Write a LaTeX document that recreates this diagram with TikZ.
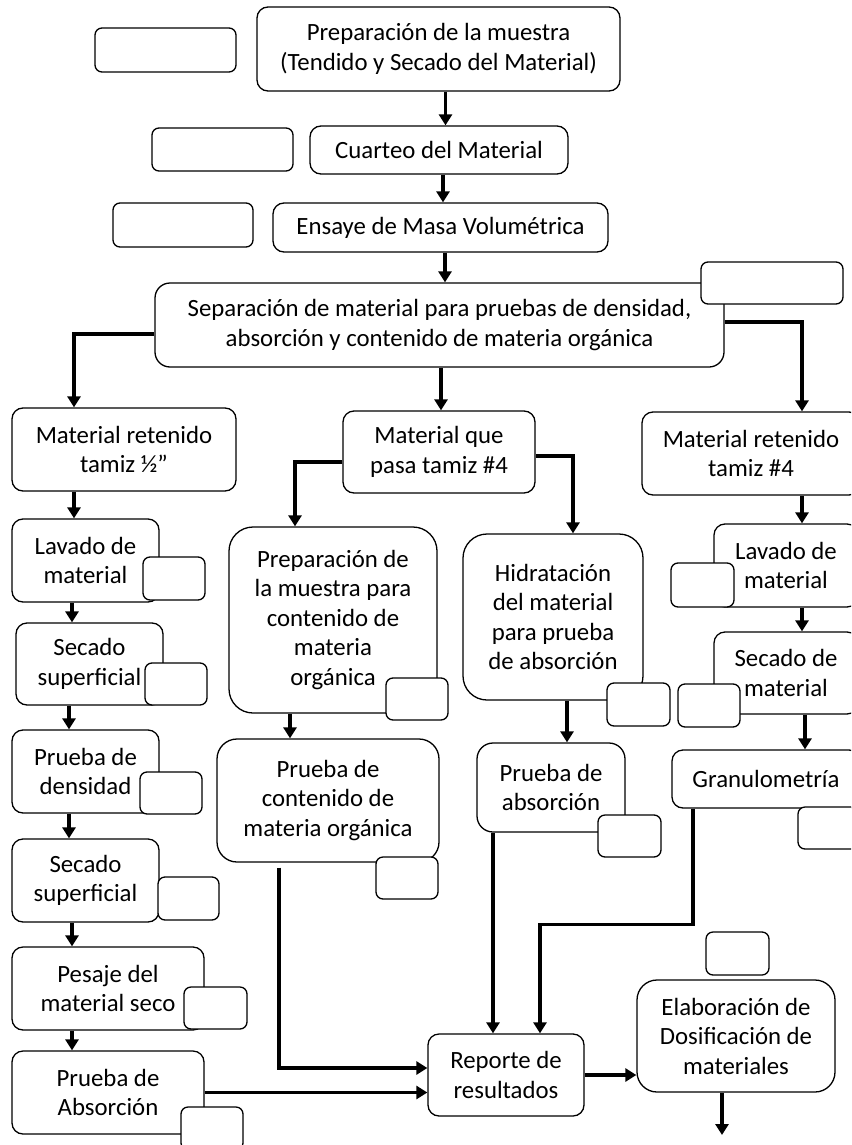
\documentclass[tikz,border=0pt]{standalone}
\usepackage{fontspec}
\setmainfont{Carlito}
\usetikzlibrary{arrows.meta,positioning}

\begin{document}
\begin{tikzpicture}[
    x = 1pt, y = -1pt, % page points, y grows downwards
    > = {Triangle[length=11pt,width=13pt]}, % arrow head style
    line width = 3.6pt, % connector lines
    font = \fontsize{24.8}{29.5}\selectfont
    ]

    \tikzset{proc/.style={
        draw = black,
        line width = 1.3pt,
        rounded corners = 11pt,
        fill = white,
        align = center,
        inner sep = 0pt
        },
    big/.style = {proc, rounded corners = 24pt},
    blank/.style = {proc, rounded corners = 7pt},
    wh/.style 2 args = {minimum width = #1pt, minimum height = #2pt}
    }
    \useasboundingbox (0,0) rectangle (851,1145);
    \clip (0,0) rectangle (851,1145);

    % central trunk
    \node[proc, wh={363}{84}] (prep) at (438.5,49) {Preparación de la muestra\\(Tendido y Secado del Material)};
    \node[proc, wh={258}{48}] (cuarteo) at (439,150) {Cuarteo del Material};
    \node[proc, wh={335}{49}] (ensaye) at (440.5,227.5) {Ensaye de Masa Volumétrica};
    \node[proc, rounded corners=15pt, wh={569}{84}] (separa) at (439.5,325) {Separación de material para pruebas de densidad,\\absorción y contenido de materia orgánica};

    % the three fractions
    \node[proc, wh={224}{83}] (ret12) at (124,449.5) {Material retenido\\tamiz ½”};
    \node[proc, wh={192}{82}] (pasa4) at (439,452) {Material que\\pasa tamiz \#4};
    \node[proc, wh={218}{83}] (ret4) at (751,453.5) {Material retenido\\tamiz \#4};

    % left column
    \node[proc, wh={147}{83}] (lav1) at (85.5,560.5) {Lavado de\\material};
    \node[proc, wh={147}{82}] (sec1) at (89.5,664) {Secado\\superficial};
    \node[proc, wh={147}{83}] (dens) at (85.5,771.5) {Prueba de\\densidad};
    \node[proc, wh={147}{83}] (sec2) at (85.5,880.5) {Secado\\superficial};
    \node[proc, wh={192}{83}] (pesaje) at (108,988.5) {Pesaje del\\material seco};
    \node[proc, wh={192}{83}] (absL) at (108,1092.5) {Prueba de\\Absorción};

    % middle columns
    \node[big, wh={208}{186}] (prepmo) at (333,620) {Preparación de\\la muestra para\\contenido de\\materia\\orgánica};
    \node[big, rounded corners=20pt, wh={222}{123}] (conten) at (328,800.5) {Prueba de\\contenido de\\materia orgánica};
    \node[big, wh={180}{166}] (hidra) at (553,617) {Hidratación\\del material\\para prueba\\de absorción};
    \node[proc, rounded corners=16pt, wh={148}{89}] (pabs) at (551,787.5) {Prueba de\\absorción};

    % right column
    \node[proc, wh={144}{83}] (lav2) at (786,565.5) {Lavado de\\material};
    \node[proc, wh={144}{82}] (sec3) at (786,673) {Secado de\\material};
    \node[proc, wh={188}{58}] (granu) at (766,779) {Granulometría};

    % results
    \node[proc, wh={156}{82}] (reporte) at (506,1075) {Reporte de\\resultados};
    \node[big, rounded corners=20pt, wh={198}{112}] (elab) at (736,1036) {Elaboración de\\Dosificación de\\materiales};
    \coordinate (salida) at (722,1135);

    % empty tags
    \node[blank, wh={141}{44}] (t1) at (165.5,50) {};
    \node[blank, wh={141}{43}] (t2) at (222.5,149.5) {};
    \node[blank, wh={140}{44}] (t3) at (183,225) {};
    \node[blank, wh={142}{42}] (t4) at (772,283) {};
    \node[blank, wh={62}{43}] (t5) at (174,578.5) {};
    \node[blank, wh={62}{42}] (t6) at (176,684) {};
    \node[blank, wh={62}{42}] (t7) at (171,793) {};
    \node[blank, wh={61}{43}] (t8) at (188.5,898.5) {};
    \node[blank, wh={63}{42}] (t9) at (215.5,1008) {};
    \node[blank, wh={62}{43}] (t10) at (212,1128.5) {};
    \node[blank, wh={62}{42}] (t11) at (417,699) {};
    \node[blank, wh={62}{42}] (t12) at (407,878) {};
    \node[blank, wh={63}{43}] (t13) at (638.5,704.5) {};
    \node[blank, wh={63}{42}] (t14) at (629.5,836) {};
    \node[blank, wh={63}{44}] (t15) at (702.5,585) {};
    \node[blank, wh={62}{43}] (t16) at (709,705.5) {};
    \node[blank, wh={63}{42}] (t17) at (829.5,828) {};
    \node[blank, wh={63}{43}] (t18) at (737.5,953.5) {};

    % trunk arrows
    \draw[->] ([xshift=7]prep.south) -- ([xshift=7]prep.south |- cuarteo.north);
    \draw[->] ([xshift=4]cuarteo.south) -- ([xshift=4]cuarteo.south |- ensaye.north);
    \draw[->] ([xshift=4.5]ensaye.south) -- ([xshift=4.5]ensaye.south |- separa.north);
    \draw[->] ([yshift=-9]separa.west) -| ([xshift=-50]ret12.north);
    \draw[->] ([xshift=1.5]separa.south) -- ([xshift=1.5]separa.south |- pasa4.north);
    \draw[->] ([yshift=3]separa.east) -| ([xshift=51]ret4.north);
    \draw[->] ([yshift=-10]pasa4.west) -| ([xshift=-38]prepmo.north);
    \draw[->] ([yshift=-4]pasa4.east) -| ([xshift=20]hidra.north);

    % left column arrows
    \draw[->] ([xshift=-50]ret12.south) -- ([xshift=-50]ret12.south |- lav1.north);
    \draw[->] ([xshift=-13.5]lav1.south) -- ([xshift=-13.5]lav1.south |- sec1.north);
    \draw[->] ([xshift=-20.5]sec1.south) -- ([xshift=-20.5]sec1.south |- dens.north);
    \draw[->] ([xshift=-16.5]dens.south) -- ([xshift=-16.5]dens.south |- sec2.north);
    \draw[->] ([xshift=-13.5]sec2.south) -- ([xshift=-13.5]sec2.south |- pesaje.north);
    \draw[->] ([xshift=-36]pesaje.south) -- ([xshift=-36]pesaje.south |- absL.north);

    % middle and right arrows
    \draw[->] ([xshift=-43]prepmo.south) -- ([xshift=-43]prepmo.south |- conten.north);
    \draw[->] ([xshift=14]hidra.south) -- ([xshift=14]hidra.south |- pabs.north);
    \draw[->] ([xshift=51]ret4.south) -- ([xshift=51]ret4.south |- lav2.north);
    \draw[->] ([xshift=16]lav2.south) -- ([xshift=16]lav2.south |- sec3.north);
    \draw[->] ([xshift=19]sec3.south) -- ([xshift=19]sec3.south |- granu.north);

    % into the report
    \draw[->] ([xshift=-49,yshift=-5]conten.south) |- ([yshift=7]reporte.west);
    \draw[->] (absL.east) -- (absL.east -| reporte.west);
    \draw[->] ([xshift=-58]pabs.south) -- ([xshift=-58]pabs.south |- reporte.north);
    \draw[->] ([xshift=-73]granu.south) -- ++(0,116) -| ([xshift=34]reporte.north);
    \draw[->] (reporte.east) -- (reporte.east -| elab.west);
    \draw[->] ([xshift=-14]elab.south) -- (salida);
\end{tikzpicture}
\end{document}
